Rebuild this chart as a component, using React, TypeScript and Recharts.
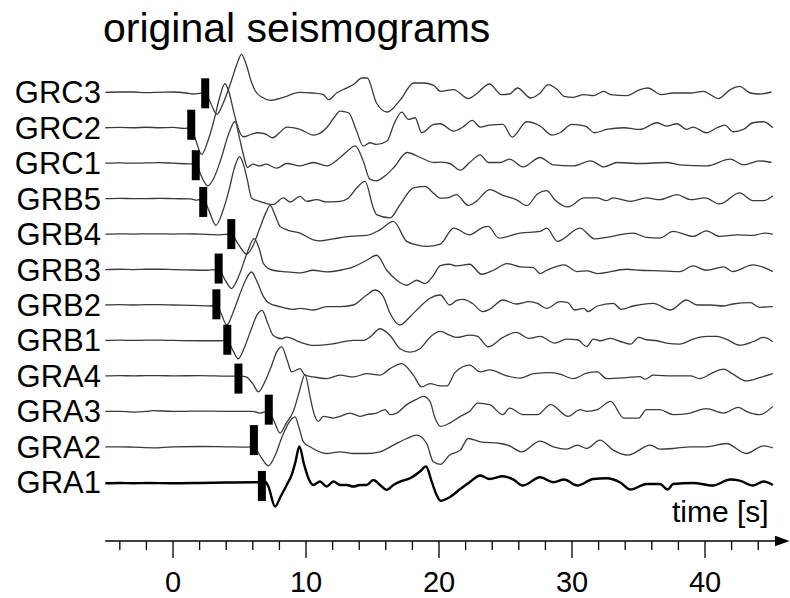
import React from 'react';
import { ComposedChart, Line, Scatter, XAxis, YAxis } from 'recharts';

// station names, top to bottom
const stations = ['GRC3', 'GRC2', 'GRC1', 'GRB5', 'GRB4', 'GRB3', 'GRB2', 'GRB1', 'GRA4', 'GRA3', 'GRA2', 'GRA1'];

// [time s, amplitude]
const grc3 = [[-5.1,0],[-4,0.3],[-3,0.3],[-2,-0.3],[-1,0],[0,0.3],[1,-0.7],[1.5,-1.7],[2.0,-1],[2.4,0],[2.8,-10],[3.3,-22],[3.8,-10],[4.3,8],[4.8,28],[5.15,38],[5.5,28],[5.9,10],[6.2,1],[6.7,-5],[7.3,-8],[8.3,-5],[9.5,0],[10.5,-0.7],[11.3,-2.3],[11.7,-7.3],[12.3,-0.7],[13.0,4],[13.6,8],[14.2,14.3],[14.6,14.3],[15.3,-10.7],[16.1,-19.7],[17.1,-7.3],[18.1,9.3],[18.8,9.3],[19.6,7],[20.1,1],[21.1,2.7],[22.2,-6.3],[22.8,-1.7],[23.8,8.3],[24.7,-2.3],[25.3,-1.7],[25.9,4.3],[26.9,-5.7],[27.6,-0.7],[28.2,7.7],[28.9,2.7],[29.4,-4],[30.1,-5],[30.9,-2.3],[31.6,-3.3],[32.4,1],[32.9,-2.3],[34.1,-3.3],[35.1,2.7],[35.7,4.3],[36.7,-2.3],[37.6,-0.7],[38.9,-0.7],[39.9,1],[40.4,-2.3],[41.0,-6.3],[41.9,2.7],[42.6,6],[43.4,-0.7],[44.1,-1.7],[45.0,0.3]];
const grc2 = [[-5.1,0],[-4,0.3],[-3,0],[-2,0.5],[-1,0],[0,0.3],[0.8,-0.7],[1.35,0],[1.7,-12],[2.15,-26.7],[2.6,-14],[3.05,6],[3.5,30],[3.9,44],[4.2,36],[4.55,16.7],[5.0,-4],[5.3,-9],[5.8,-7],[6.3,-5],[6.9,-6],[7.5,-10],[8.0,-5],[8.55,0.7],[9.55,-1.7],[10.55,-7.3],[11.55,0],[12.1,10],[12.56,16.7],[13.2,15],[13.8,-3.3],[14.3,-18.3],[14.8,-15],[15.3,-16.7],[16.1,-13.3],[16.6,3.3],[17.2,15.7],[17.7,8.3],[18.2,10],[18.7,-5],[19.6,3.3],[20.1,4],[21.1,-3.3],[21.8,0.7],[22.5,7.3],[23.1,0.7],[23.8,2.7],[24.8,3.3],[25.5,-9.3],[26.6,6],[27.6,1.7],[28.5,-7.3],[29.1,-5],[30.0,3.3],[31.0,1.7],[31.7,-5],[32.6,-1.7],[33.9,0],[35.1,-1.7],[36.4,5],[37.1,1.7],[37.9,4],[38.6,-1.7],[39.1,0.7],[40.1,-5],[40.9,0],[41.5,2.7],[42.1,-4],[42.9,-1.7],[43.6,5],[44.4,6],[45.1,0]];
const grc1 = [[-5.1,0],[-4,0.3],[-3,0],[-2,0.3],[-1,0.5],[0,0],[1.2,-0.7],[1.7,0],[2.1,-12],[2.6,-22.7],[3.1,-14],[3.6,4],[4.2,30],[4.66,41.7],[5.0,25],[5.3,8],[5.6,-4.3],[6.0,-1],[6.5,-2.7],[7.0,-1],[7.8,-5],[8.55,-0.3],[9.55,-2.7],[10.55,0.7],[11.55,-2.7],[12.56,5.7],[13.1,12],[13.7,17.3],[14.3,2.3],[14.8,-16],[15.3,-17.7],[16.0,-12],[16.6,-4.3],[17.6,10.7],[18.6,5.7],[19.6,0.7],[20.1,1],[20.8,-0.3],[21.6,-7],[22.3,0.7],[23.1,8.3],[23.7,0.7],[24.6,0.7],[25.3,4],[26.3,-3.7],[27.6,5.7],[28.6,-1.7],[30.1,-2.7],[31.4,2.3],[32.4,-3.7],[33.4,0.7],[35.1,-0.3],[37.1,0.7],[38.1,-1.7],[40.1,-2.7],[41.9,4],[42.9,-1.7],[44.1,2.3],[45.0,0.7]];
const grb5 = [[-5.1,0],[-4,0.3],[-3,0],[-2,0],[-1,0.3],[0,0],[1.3,-0.3],[1.8,-1.5],[2.28,0],[2.7,-12],[3.23,-26.7],[3.7,-14],[4.2,8],[4.6,30],[5.0,42],[5.3,34],[5.6,18],[5.9,0.7],[6.5,-2.7],[7.5,-6],[8.3,0.7],[8.8,-3.3],[9.55,2.3],[10.05,-2.7],[10.8,-1],[11.55,-3.3],[12.56,-2.7],[13.18,0.7],[13.81,10.7],[14.44,17.3],[15.06,-9.3],[15.31,-16],[16.32,-19.3],[17.07,-6],[18.07,10.7],[18.95,12.3],[19.57,5.7],[20.1,0.5],[20.6,0.7],[21.3,4],[22.2,-6.7],[22.8,-2.7],[23.8,9],[24.8,3.3],[25.8,-1],[26.6,-7],[27.4,4.7],[28.1,8],[28.7,-1],[29.7,-8.3],[30.9,0.7],[31.9,0.7],[32.6,-2],[33.1,0.7],[34.4,-2.7],[35.6,0.7],[36.6,-1],[37.9,4],[38.9,-1],[40.0,0.7],[41.1,-5.3],[42.6,5.7],[43.6,-2],[44.4,-2],[45.1,3]];
const grb4 = [[-5.1,0],[-4,0.3],[-3,0],[-2,0.3],[-1,0.3],[0,0],[1,0.3],[2,0],[3.5,-0.7],[4.36,0],[4.9,-10],[5.54,-20],[6.0,-12],[6.5,5],[7.0,22],[7.3,28.7],[7.7,18],[8.05,7.7],[8.55,4.3],[9.55,1],[10.55,-5.7],[11.05,-6.7],[12.06,-4.7],[13.31,-2.3],[14.56,-1.3],[15.56,4.3],[16.57,12.7],[17.57,-7.3],[18.32,-10.7],[19.07,-12.3],[20.1,-10],[21.1,6],[22.3,-0.7],[23.3,6.7],[23.7,7.7],[24.5,-4],[26.1,1],[27.6,2.7],[28.1,6],[28.9,-7.3],[30.6,6],[31.7,-4.7],[32.6,-3.3],[34.6,1],[35.6,-3.3],[36.6,-4],[37.6,2.7],[39.1,-2.3],[40.1,3.3],[41.1,-2.3],[42.4,-0.7],[43.6,-1.3],[44.5,1],[45.1,0]];
const grb3 = [[-5.1,0],[-4,0.3],[-3,0],[-2,0.3],[-1,0.3],[0,0],[1,-0.3],[2.5,-0.7],[3.43,0],[3.9,-10],[4.4,-19],[4.9,-8],[5.5,14],[6.1,31],[6.5,20],[6.8,6],[7.5,-0.7],[8.55,-2.3],[9.55,-3.3],[10.55,-0.7],[11.55,-2.3],[12.56,-0.7],[13.56,2.7],[14.56,9.3],[15.31,14.3],[16.07,-0.7],[16.82,-10.7],[17.57,-15.7],[18.32,-10.7],[18.95,-14],[19.57,-6],[20.1,4],[20.8,5.3],[21.3,3.7],[22.3,5.3],[23.2,-4.7],[24.1,-0.7],[25.1,6],[26.1,2.7],[27.1,2],[27.6,-4],[28.1,-0.7],[29.4,4.7],[30.4,-2],[31.1,-1.3],[31.9,-4],[34.1,0.3],[35.1,-0.7],[36.6,-1.3],[38.1,-2],[39.1,3.7],[40.1,-0.7],[41.4,2.7],[42.1,-2],[43.6,4.7],[45.1,-2]];
const grb2 = [[-5.1,0],[-4,0.3],[-3,0],[-2,0.3],[-1,0.3],[0,0],[1.5,-0.3],[2.8,-1],[3.26,0],[3.6,-8],[4.04,-20],[4.5,-8],[5.0,10],[5.5,26],[5.9,33],[6.3,24],[6.8,8.3],[7.17,2.3],[8.05,-1.7],[9.05,-4.3],[9.55,-3.3],[10.55,-5],[11.55,-1.7],[12.56,-1.7],[13.56,0],[14.56,10],[15.19,15],[15.81,8.3],[16.32,-8.3],[17.07,-20],[17.82,-11.7],[18.57,-1.7],[19.32,6.7],[20.1,10],[20.8,0],[21.3,4.3],[21.8,5.7],[22.5,1.7],[23.3,-6.7],[23.8,-4.3],[24.8,5],[25.8,1],[26.8,3.3],[27.4,1.7],[28.1,-3.3],[29.1,3.3],[29.7,2.3],[30.2,-5],[30.9,-3.3],[31.2,-6.7],[31.9,-1],[33.1,1.7],[33.7,-4.3],[34.6,-1],[36.1,1.7],[37.4,-5],[38.6,5],[39.4,0],[40.4,0],[41.4,-1],[42.1,1],[43.4,2.3],[44.1,-2.3],[45.1,-1.7]];
const grb1 = [[-5.1,0],[-4,0.3],[-3,0],[-2,0.3],[-1,0.3],[0,0],[2,-0.3],[3.5,-0.3],[4.08,0],[4.5,-10],[4.9,-18.3],[5.4,-6],[5.9,12],[6.3,25],[6.7,30],[7.1,18],[7.54,5],[8.17,1.7],[8.55,3.3],[9.55,-1.7],[10.55,-5],[12.06,-3.3],[13.56,0],[14.31,0],[14.81,3.3],[15.56,11.7],[16.32,5],[17.07,-8.3],[17.82,-11.7],[18.57,-8.3],[19.32,3.3],[20.1,9],[20.8,5.3],[21.3,3],[22.3,5.3],[22.9,4],[23.7,-6.3],[24.8,3],[25.8,8],[26.8,2],[27.6,4],[28.7,-2.7],[29.6,1.3],[30.4,0.7],[31.1,-6],[31.6,1.3],[32.1,-0.3],[32.9,2],[33.7,-1.3],[34.4,-3.7],[35.0,3],[35.6,0.7],[36.4,-0.3],[37.1,-2.7],[38.1,-3.7],[39.1,1.3],[40.1,4],[40.9,4],[41.6,1.3],[42.6,-4.7],[43.6,-1.3],[44.4,3],[45.1,-1.3]];
const gra4 = [[-5.1,0],[-4,0.3],[-3,0],[-2,0.3],[-1,0.3],[0,0],[2,0.3],[4.4,-0.3],[4.92,0],[5.5,-1],[6.0,-8],[6.42,-16],[6.9,-6],[7.4,10],[7.8,24],[8.17,29],[8.6,15],[8.92,4],[9.55,7.3],[9.92,0.7],[10.55,-1],[11.55,-2.7],[12.56,0.7],[13.56,-1],[14.56,2.3],[15.56,0.7],[16.32,7.3],[17.19,12.3],[18.07,0.7],[18.7,-11],[19.32,-7.7],[20.1,-10],[20.6,-10],[21.2,3.3],[22.3,10.7],[23.1,4],[23.8,6],[25.1,0],[26.1,-2.3],[27.1,2.3],[28.4,3.3],[29.1,1.7],[30.1,-2.7],[31.1,2.7],[31.9,4],[32.6,-2.7],[34.1,-1.7],[35.1,-0.7],[35.5,-3.3],[36.1,0.7],[37.6,0],[38.9,0],[39.6,-2.7],[40.6,3.3],[41.4,6.7],[42.1,1.7],[43.1,-5],[44.1,-1.7],[45.1,2.3]];
const gra3 = [[-5.1,0],[-4,0],[-3,-0.7],[-2,0],[-1.5,0.7],[0,0],[0.8,0],[2,0.3],[4,0],[6.0,0],[6.5,-1.7],[7.2,0],[7.6,-10],[8.05,-21.7],[8.5,-12],[9.05,0],[9.5,20],[9.92,36.7],[10.3,15],[10.55,0],[10.93,-10],[11.3,-5],[12.06,-6.7],[12.56,-5],[13.31,-1.7],[14.06,-5],[14.56,-3.3],[15.31,-1.7],[15.94,1.7],[16.32,-3.3],[16.82,-1.7],[17.57,6.7],[18.3,12],[18.82,15],[19.32,10],[19.7,-6.7],[20.1,-15],[20.8,-11.7],[21.6,-5],[22.3,0],[22.9,8.3],[23.8,6.7],[24.8,-3.3],[25.3,3.3],[26.3,-3.3],[27.4,-3.3],[28.4,6.7],[29.7,-5],[30.6,1.7],[31.1,0],[31.9,1.7],[32.9,10],[33.9,-6.7],[35.0,-6.7],[35.6,1.7],[36.6,1.7],[37.6,-3.3],[38.9,-1.7],[40.1,2.7],[41.4,-1.7],[42.5,4],[43.1,0],[44.1,-3.3],[45.1,5]];
const gra2 = [[-5.1,0],[-4,0],[-3,-0.3],[-1.5,-1],[0,0],[2,0.3],[4,0],[5.5,-0.3],[6.08,0],[6.6,-10],[7.17,-19],[7.7,-8],[8.2,10],[8.7,24],[9.17,30],[9.5,18],[9.8,5],[10.3,0],[11.55,-6.7],[12.56,-5],[13.56,-6.7],[14.56,-6.7],[15.56,-5],[16.57,1.7],[17.57,8.3],[18.32,11.7],[19.07,3.3],[19.57,-15],[20.1,-17.5],[20.8,-8.3],[21.6,-3.3],[22.2,8.3],[23.1,5],[24.6,3.3],[25.3,1],[26.2,-5],[27.6,5.7],[28.6,0],[29.6,-2.3],[30.4,1.7],[31.1,-1.7],[32.1,6.7],[33.1,-3.3],[34.2,-8.3],[35.9,1.7],[36.6,-2.3],[37.6,-1.7],[38.9,0],[40.1,0],[41.6,3.3],[43.1,-6.7],[44.4,1],[45.1,-1]];
const gra1 = [[-5.1,-1],[-4,-0.7],[-3,-1],[-2,-0.7],[0,-1],[2,-0.7],[4,-0.3],[6.0,0],[6.68,0],[6.92,0.7],[7.17,-4.3],[7.67,-24.3],[8.1,-14],[8.55,-2.7],[8.92,7.3],[9.2,20],[9.5,35.7],[9.85,18],[10.18,4],[10.55,-2.7],[11.05,0.7],[11.55,-4.3],[12.06,0.7],[12.56,-2.7],[13.06,-2.7],[13.56,-4.3],[14.06,-2.7],[14.56,-2.7],[15.06,2.3],[15.56,-2.7],[16.07,-7.7],[16.57,-2.7],[17.07,0.7],[17.82,4],[18.57,10.7],[19.02,15.7],[19.45,0.7],[19.82,-12.7],[20.1,-18.5],[20.8,-15],[21.6,-6.7],[22.3,0],[23.1,6.7],[23.8,3.3],[24.8,6],[25.6,2.7],[26.3,-3.3],[27.6,5],[28.6,0],[29.4,2.7],[30.4,-3.3],[31.6,3.3],[32.6,4],[33.6,0],[34.4,-7.3],[35.6,-1.7],[36.6,-1.7],[37.2,-7.3],[37.6,-1.7],[39.1,-0.7],[40.6,-3.3],[41.9,2.7],[42.6,1.7],[43.6,-3.3],[44.4,0.7],[45.1,-2.7]];

const traces = [grc3, grc2, grc1, grb5, grb4, grb3, grb2, grb1, gra4, gra3, gra2, gra1];

// onset picks: [time s, amplitude of marker centre]
const picks = [[2.42,-1],[1.37,3],[1.71,-2],[2.27,-3.3],[4.38,0],[3.43,1],[3.26,0.7],[4.08,0.7],[4.92,-2.7],[7.2,1.7],[6.08,6.7],[6.68,-3.7]];

const timeTicks = [-4, -2, 0, 2, 4, 6, 8, 10, 12, 14, 16, 18, 20, 22, 24, 26, 28, 30, 32, 34, 36, 38, 40, 42, 44];

const W = 790;
const H = 598;
const AXIS_H = 57;
const AXIS_Y = H - AXIS_H;
const FIRST_BASE = 448.7; // y value of the top trace baseline
const SPACING = 35.45;
const FONT = '"Liberation Sans", Arial, Helvetica, sans-serif';

const baseOf = (i: number) => FIRST_BASE - SPACING * i;

const series = traces.map((pts, i) =>
  pts.map(([t, a]) => ({ t, v: baseOf(i) + a }))
);
const pickData = picks.map(([t, a], i) => ({ t, v: baseOf(i) + a }));
const labelTicks = stations.map((_, i) => baseOf(i));

function TimeTick(props: any) {
  const { x, payload } = props;
  const major = payload.value % 10 === 0;
  return (
    <g>
      <line x1={x} x2={x} y1={AXIS_Y} y2={AXIS_Y + (major ? 17 : 9)} stroke="#000" strokeWidth={1.3} />
      {major && (
        <text x={x} y={AXIS_Y + 51} textAnchor="middle" fontSize={29} fontFamily={FONT} fill="#000">
          {payload.value}
        </text>
      )}
    </g>
  );
}

function StationTick(props: any) {
  const { y, index } = props;
  return (
    <text x={101} y={y + 11} textAnchor="end" fontSize={31} fontFamily={FONT} fill="#000">
      {stations[index]}
    </text>
  );
}

function PickMark(props: any) {
  const { cx, cy } = props;
  return <rect x={cx - 4} y={cy - 15} width={8} height={30} fill="#000" />;
}

export default function App() {
  return (
    <div style={{ position: 'absolute', left: 0, top: 0, width: W, height: H, background: '#fff' }}>
      <svg width={0} height={0} style={{ position: 'absolute' }}>
        <defs>
          <marker id="arrowHead" markerUnits="userSpaceOnUse" markerWidth={15} markerHeight={11} refX={1} refY={5.5} orient="auto">
            <path d="M0,0 L15,5.5 L0,11 z" fill="#000" />
          </marker>
        </defs>
      </svg>
      <ComposedChart width={W} height={H} margin={{ top: 0, right: 14.5, bottom: 0, left: 0 }}>
        <XAxis
          type="number"
          dataKey="t"
          domain={[-5.1, 45.3]}
          allowDataOverflow
          ticks={timeTicks}
          interval={0}
          tick={<TimeTick />}
          tickLine={false}
          height={AXIS_H}
          axisLine={{ stroke: '#000', strokeWidth: 1.5, markerEnd: 'url(#arrowHead)' }}
        />
        <YAxis
          type="number"
          dataKey="v"
          domain={[0, AXIS_Y]}
          allowDataOverflow
          ticks={labelTicks}
          interval={0}
          tick={<StationTick />}
          tickLine={false}
          axisLine={false}
          width={105.2}
        />
        {series.map((d, i) => (
          <Line
            key={stations[i]}
            data={d}
            dataKey="v"
            type="monotone"
            stroke={i === series.length - 1 ? '#000' : '#3a3a3a'}
            strokeWidth={i === series.length - 1 ? 2.4 : 1.3}
            dot={false}
            activeDot={false}
            isAnimationActive={false}
          />
        ))}
        <Scatter data={pickData} dataKey="v" shape={<PickMark />} isAnimationActive={false} />
      </ComposedChart>
      <svg width={W} height={H} style={{ position: 'absolute', left: 0, top: 0, pointerEvents: 'none' }}>
        <text x={103} y={41.5} fontSize={41} fontFamily={FONT} fill="#000">original seismograms</text>
        <text x={672} y={522} fontSize={30} fontFamily={FONT} fill="#000">time [s]</text>
      </svg>
    </div>
  );
}
